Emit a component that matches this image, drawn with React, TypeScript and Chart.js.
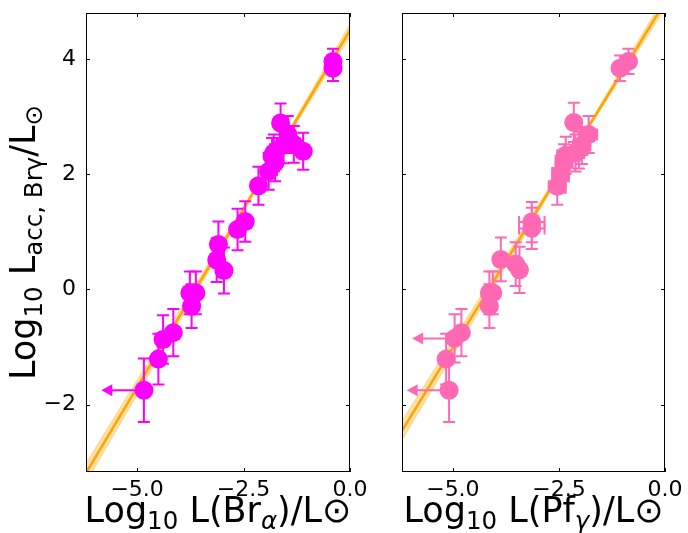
import React, { useEffect, useRef } from "react";
import { Chart, registerables } from "chart.js";
Chart.register(...registerables);

const FONT = "'DejaVu Sans', 'Liberation Sans', sans-serif";

// ---- Left panel: Br alpha ----
const brAlphaX = [-0.40, -0.40, -1.63, -1.46, -1.32, -1.56, -1.10, -1.79, -1.83, -1.76, -1.91, -2.15, -2.46, -2.64, -3.09, -3.13, -2.96, -3.76, -3.62, -3.72, -4.15, -4.39, -4.50, -4.84];
const brAlphaY = [3.96, 3.84, 2.89, 2.69, 2.52, 2.51, 2.40, 2.37, 2.31, 2.20, 2.05, 1.80, 1.18, 1.04, 0.78, 0.51, 0.33, -0.06, -0.06, -0.29, -0.75, -0.87, -1.21, -1.75];
const brAlphaYErr = [0.22, 0.22, 0.34, 0.32, 0.32, 0.32, 0.32, 0.32, 0.32, 0.32, 0.32, 0.33, 0.35, 0.36, 0.40, 0.38, 0.40, 0.37, 0.37, 0.38, 0.41, 0.42, 0.44, 0.55];
const brAlphaXErr = [0, 0, 0, 0, 0, 0, 0, 0, 0, 0, 0, 0, 0, 0, 0, 0, 0, 0, 0, 0, 0, 0, 0, 0];
const brAlphaUpperLimit = [false, false, false, false, false, false, false, false, false, false, false, false, false, false, false, false, false, false, false, false, false, false, false, true];

// ---- Right panel: Pf gamma ----
const pfGammaX = [-0.86, -1.06, -2.15, -1.80, -1.96, -2.03, -2.11, -2.34, -2.38, -2.46, -2.54, -3.14, -3.14, -3.87, -3.52, -3.43, -4.14, -4.06, -4.14, -4.80, -4.96, -5.16, -5.09];
const pfGammaY = [3.96, 3.84, 2.90, 2.69, 2.50, 2.42, 2.37, 2.33, 2.20, 2.00, 1.79, 1.17, 1.06, 0.52, 0.44, 0.34, -0.06, -0.06, -0.29, -0.75, -0.85, -1.21, -1.75];
const pfGammaYErr = [0.22, 0.22, 0.34, 0.32, 0.32, 0.32, 0.32, 0.32, 0.32, 0.32, 0.32, 0.35, 0.36, 0.38, 0.38, 0.40, 0.37, 0.37, 0.38, 0.41, 0.42, 0.44, 0.55];
const pfGammaXErr = [0.15, 0.15, 0, 0.2, 0.2, 0.2, 0.2, 0.2, 0.2, 0.2, 0.2, 0.3, 0.3, 0, 0, 0, 0, 0, 0, 0, 0, 0, 0];
const pfGammaUpperLimit = [false, false, false, false, false, false, false, false, false, false, false, false, false, false, false, false, false, false, false, false, true, false, true];

// ---- Fits ----
const fitX = [-6.5, 0.5];
const fitBrAlphaY = [-3.56, 5.12];
const fitPfGammaY = [-2.81, 5.59];
const bandX = [-6.5, -2.0, 0.5];
const bandBrAlphaLow = [-3.74, 1.99, 4.99];
const bandBrAlphaHigh = [-3.38, 2.05, 5.25];
const bandPfGammaLow = [-2.99, 2.56, 5.46];
const bandPfGammaHigh = [-2.63, 2.62, 5.72];

// ---- Axes ----
const xTicks = [-5.0, -2.5, 0.0];
const yTicks = [-2, 0, 2, 4];
const xMin = -6.2;
const xMax = 0.0;
const yMin = -3.17;
const yMax = 4.8;
const limitArrowLength = 1.0;

type Seg = { t: string; s: number; dy: number; it?: boolean };

const xTitleBr: Seg[] = [
  { t: "Log", s: 1, dy: 0 },
  { t: "10", s: 0.7, dy: 0.2 },
  { t: " L(Br", s: 1, dy: 0 },
  { t: "α", s: 0.7, dy: 0.2, it: true },
  { t: ")/L⊙", s: 1, dy: 0 },
];
const xTitlePf: Seg[] = [
  { t: "Log", s: 1, dy: 0 },
  { t: "10", s: 0.7, dy: 0.2 },
  { t: " L(Pf", s: 1, dy: 0 },
  { t: "γ", s: 0.7, dy: 0.2, it: true },
  { t: ")/L⊙", s: 1, dy: 0 },
];
const yTitle: Seg[] = [
  { t: "Log", s: 1, dy: 0 },
  { t: "10", s: 0.7, dy: 0.2 },
  { t: " L", s: 1, dy: 0 },
  { t: "acc, Brγ", s: 0.7, dy: 0.2 },
  { t: "/L", s: 1, dy: 0 },
  { t: "⊙", s: 0.7, dy: 0.2 },
];

const TITLE_SIZE = 35;
const TICK_SIZE = 22;

function fmtNum(v: number, digits: number) {
  const s = Math.abs(v).toFixed(digits);
  return v < 0 ? "\u2212" + s : s;
}

function drawMath(ctx: CanvasRenderingContext2D, segs: Seg[], size: number) {
  let total = 0;
  const widths: number[] = [];
  for (const g of segs) {
    ctx.font = `${g.it ? "italic " : ""}${size * g.s}px ${FONT}`;
    const w = ctx.measureText(g.t).width;
    widths.push(w);
    total += w;
  }
  let x = -total / 2;
  segs.forEach((g, i) => {
    ctx.font = `${g.it ? "italic " : ""}${size * g.s}px ${FONT}`;
    ctx.fillText(g.t, x, g.dy * size);
    x += widths[i];
  });
}

interface PanelCfg {
  xs: number[];
  ys: number[];
  yErr: number[];
  xErr: number[];
  ul: boolean[];
  color: string;
  fitY: number[];
  bandLow: number[];
  bandHigh: number[];
  xTitle: Seg[];
  showY: boolean;
  yAxisWidth: number;
  padRight: number;
}

function makeChart(canvas: HTMLCanvasElement, cfg: PanelCfg) {
  const pts = cfg.xs.map((x, i) => ({ x, y: cfg.ys[i] }));
  const fit = fitX.map((x, i) => ({ x, y: cfg.fitY[i] }));
  const lo = bandX.map((x, i) => ({ x, y: cfg.bandLow[i] }));
  const hi = bandX.map((x, i) => ({ x, y: cfg.bandHigh[i] }));

  const panelPlugin = {
    id: "panelDecor",
    beforeDatasetDraw(chart: any, args: any) {
      if (args.index !== 0) return;
      const ctx = chart.ctx;
      const xs = chart.scales.x;
      const ysc = chart.scales.y;
      const a = chart.chartArea;
      ctx.save();
      ctx.beginPath();
      ctx.rect(a.left, a.top, a.right - a.left, a.bottom - a.top);
      ctx.clip();
      ctx.strokeStyle = cfg.color;
      ctx.fillStyle = cfg.color;
      ctx.lineWidth = 2;
      const cap = 6;
      cfg.xs.forEach((xv, i) => {
        const yv = cfg.ys[i];
        const px = xs.getPixelForValue(xv);
        const py = ysc.getPixelForValue(yv);
        const e = cfg.yErr[i];
        if (e > 0) {
          const y1 = ysc.getPixelForValue(yv + e);
          const y2 = ysc.getPixelForValue(yv - e);
          ctx.beginPath();
          ctx.moveTo(px, y1);
          ctx.lineTo(px, y2);
          ctx.moveTo(px - cap, y1);
          ctx.lineTo(px + cap, y1);
          ctx.moveTo(px - cap, y2);
          ctx.lineTo(px + cap, y2);
          ctx.stroke();
        }
        const xe = cfg.xErr[i];
        if (xe > 0) {
          const x1 = xs.getPixelForValue(xv - xe);
          const x2 = xs.getPixelForValue(xv + xe);
          ctx.beginPath();
          ctx.moveTo(x1, py);
          ctx.lineTo(x2, py);
          ctx.moveTo(x1, py - cap);
          ctx.lineTo(x1, py + cap);
          ctx.moveTo(x2, py - cap);
          ctx.lineTo(x2, py + cap);
          ctx.stroke();
        }
        if (cfg.ul[i]) {
          const xa = xs.getPixelForValue(xv - limitArrowLength);
          ctx.beginPath();
          ctx.moveTo(px, py);
          ctx.lineTo(xa + 8, py);
          ctx.stroke();
          ctx.beginPath();
          ctx.moveTo(xa, py);
          ctx.lineTo(xa + 11, py - 6);
          ctx.lineTo(xa + 11, py + 6);
          ctx.closePath();
          ctx.fill();
        }
      });
      ctx.restore();
    },
    afterDraw(chart: any) {
      const ctx = chart.ctx;
      const a = chart.chartArea;
      const xs = chart.scales.x;
      const ysc = chart.scales.y;
      ctx.save();
      ctx.strokeStyle = "#000";
      ctx.lineWidth = 1;
      ctx.strokeRect(a.left + 0.5, a.top + 0.5, a.right - a.left - 1, a.bottom - a.top - 1);
      const tl = 4;
      ctx.beginPath();
      xTicks.forEach((v) => {
        const p = Math.round(xs.getPixelForValue(v)) + 0.5;
        ctx.moveTo(p, a.bottom);
        ctx.lineTo(p, a.bottom - tl);
        ctx.moveTo(p, a.top);
        ctx.lineTo(p, a.top + tl);
      });
      yTicks.forEach((v) => {
        const p = Math.round(ysc.getPixelForValue(v)) + 0.5;
        ctx.moveTo(a.left, p);
        ctx.lineTo(a.left + tl, p);
        ctx.moveTo(a.right, p);
        ctx.lineTo(a.right - tl, p);
      });
      ctx.stroke();

      ctx.fillStyle = "#000";
      ctx.textBaseline = "alphabetic";
      ctx.textAlign = "left";
      ctx.save();
      ctx.translate((a.left + a.right) / 2, 522);
      drawMath(ctx, cfg.xTitle, TITLE_SIZE);
      ctx.restore();
      if (cfg.showY) {
        ctx.save();
        ctx.translate(35, (a.top + a.bottom) / 2);
        ctx.rotate(-Math.PI / 2);
        drawMath(ctx, yTitle, TITLE_SIZE);
        ctx.restore();
      }
      ctx.restore();
    },
  };

  return new Chart(canvas, {
    type: "scatter",
    data: {
      datasets: [
        {
          data: pts,
          backgroundColor: cfg.color,
          borderColor: cfg.color,
          borderWidth: 0,
          pointRadius: 9.5,
          pointHoverRadius: 9.5,
          order: 0,
        },
        {
          data: fit,
          showLine: true,
          borderColor: "#ffa500",
          borderWidth: 2.5,
          pointRadius: 0,
          order: 1,
        },
        {
          data: lo,
          showLine: true,
          borderColor: "rgba(255,165,0,0.35)",
          borderWidth: 1,
          pointRadius: 0,
          order: 2,
        },
        {
          data: hi,
          showLine: true,
          borderColor: "rgba(255,165,0,0.35)",
          backgroundColor: "rgba(255,165,0,0.35)",
          borderWidth: 1,
          pointRadius: 0,
          fill: "-1",
          order: 2,
        },
      ] as any,
    },
    options: {
      animation: false,
      responsive: false,
      devicePixelRatio: 1,
      events: [],
      layout: { padding: { top: 13, right: cfg.padRight, left: 0, bottom: 0 } },
      plugins: { legend: { display: false }, tooltip: { enabled: false } },
      scales: {
        x: {
          type: "linear",
          min: xMin,
          max: xMax,
          afterBuildTicks: (s: any) => {
            s.ticks = xTicks.map((v) => ({ value: v }));
          },
          afterFit: (s: any) => {
            s.height = 61;
            s.paddingLeft = 0;
            s.paddingRight = 0;
          },
          grid: { display: false, drawTicks: false },
          border: { display: false },
          ticks: {
            autoSkip: false,
            maxRotation: 0,
            padding: 5,
            color: "#000",
            font: { family: FONT, size: TICK_SIZE },
            callback: (v: any) => fmtNum(Number(v), 1),
          },
        },
        y: {
          type: "linear",
          min: yMin,
          max: yMax,
          afterBuildTicks: (s: any) => {
            s.ticks = yTicks.map((v) => ({ value: v }));
          },
          afterFit: (s: any) => {
            s.width = cfg.yAxisWidth;
            s.paddingTop = 0;
            s.paddingBottom = 0;
          },
          grid: { display: false, drawTicks: false },
          border: { display: false },
          ticks: {
            display: cfg.showY,
            padding: 10,
            color: "#000",
            font: { family: FONT, size: TICK_SIZE },
            callback: (v: any) => fmtNum(Number(v), 0),
          },
        },
      },
    } as any,
    plugins: [panelPlugin],
  });
}

export default function App() {
  const leftRef = useRef<HTMLCanvasElement>(null);
  const rightRef = useRef<HTMLCanvasElement>(null);

  useEffect(() => {
    const c1 = makeChart(leftRef.current!, {
      xs: brAlphaX,
      ys: brAlphaY,
      yErr: brAlphaYErr,
      xErr: brAlphaXErr,
      ul: brAlphaUpperLimit,
      color: "#ff00ff",
      fitY: fitBrAlphaY,
      bandLow: bandBrAlphaLow,
      bandHigh: bandBrAlphaHigh,
      xTitle: xTitleBr,
      showY: true,
      yAxisWidth: 86,
      padRight: 20,
    });
    const c2 = makeChart(rightRef.current!, {
      xs: pfGammaX,
      ys: pfGammaY,
      yErr: pfGammaYErr,
      xErr: pfGammaXErr,
      ul: pfGammaUpperLimit,
      color: "#ff69b4",
      fitY: fitPfGammaY,
      bandLow: bandPfGammaLow,
      bandHigh: bandPfGammaHigh,
      xTitle: xTitlePf,
      showY: false,
      yAxisWidth: 22,
      padRight: 23,
    });
    return () => {
      c1.destroy();
      c2.destroy();
    };
  }, []);

  return (
    <div style={{ position: "fixed", left: 0, top: 0, width: 688, height: 533, background: "#fff" }}>
      <canvas ref={leftRef} width={370} height={533} style={{ position: "absolute", left: 0, top: 0, width: 370, height: 533 }} />
      <canvas ref={rightRef} width={308} height={533} style={{ position: "absolute", left: 380, top: 0, width: 308, height: 533 }} />
    </div>
  );
}
